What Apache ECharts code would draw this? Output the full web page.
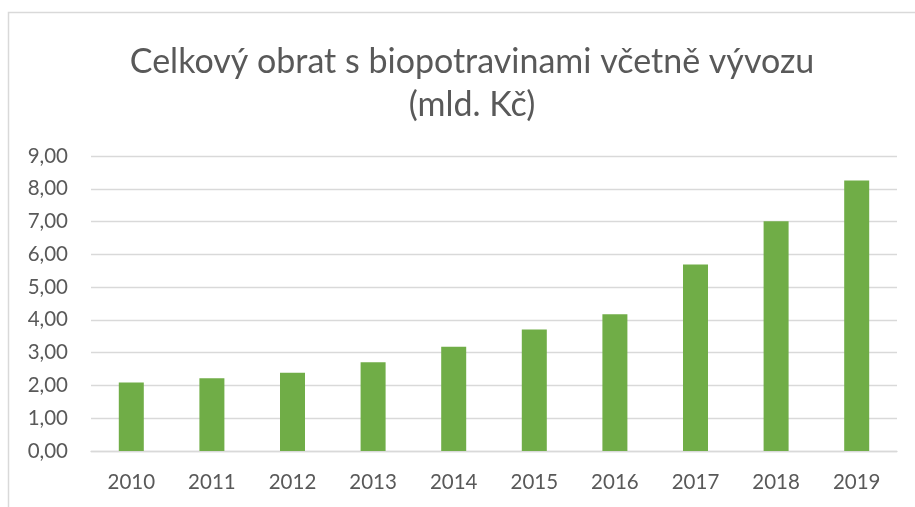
<!DOCTYPE html>
<html>
<head>
<meta charset="utf-8">
<script src="https://cdn.jsdelivr.net/npm/echarts@6/dist/echarts.min.js"></script>
<style>
  html, body { margin: 0; padding: 0; background: #fff; }
  #chart { width: 915px; height: 507px; }
</style>
</head>
<body>
<div id="chart"></div>
<script>
// roky a hodnoty (mld. Kč)
const years = ['2010', '2011', '2012', '2013', '2014', '2015', '2016', '2017', '2018', '2019'];
const turnover = [2.09, 2.22, 2.39, 2.71, 3.18, 3.71, 4.17, 5.69, 7.01, 8.25];
const yTicks = [0, 9, 1]; // min, max, krok

const chart = echarts.init(document.getElementById('chart'));
const fontFamily = 'Lato, "Open Sans", sans-serif';

chart.setOption({
  animation: false,
  title: {
    text: 'Celkový obrat s biopotravinami včetně vývozu\n(mld. Kč)',
    left: 467,
    top: 36,
    textAlign: 'center',
    textStyle: {
      fontFamily: fontFamily,
      fontSize: 34,
      fontWeight: 'normal',
      color: '#595959',
      lineHeight: 43
    }
  },
  // rámeček grafu
  graphic: [{
    type: 'rect',
    shape: { x: 8.5, y: 12.5, width: 920, height: 520 },
    style: { fill: 'none', stroke: '#d9d9d9', lineWidth: 1.5 },
    silent: true
  }],
  grid: { left: 91, right: 18, top: 156, bottom: 56 },
  xAxis: {
    type: 'category',
    data: years,
    axisLine: { show: true, lineStyle: { color: '#d9d9d9', width: 1.3 } },
    axisTick: { show: false },
    axisLabel: { color: '#595959', fontSize: 20.5, fontFamily: fontFamily, margin: 21 }
  },
  yAxis: {
    type: 'value',
    min: yTicks[0],
    max: yTicks[1],
    interval: yTicks[2],
    axisLine: { show: false },
    axisTick: { show: false },
    splitLine: { lineStyle: { color: '#d9d9d9', width: 1.3 } },
    axisLabel: {
      color: '#595959', fontSize: 20.5, fontFamily: fontFamily, margin: 23,
      formatter: v => v.toFixed(2).replace('.', ',')
    }
  },
  series: [{
    type: 'bar',
    data: turnover,
    barWidth: 25,
    itemStyle: { color: '#70ad47' }
  }]
});
</script>
</body>
</html>
